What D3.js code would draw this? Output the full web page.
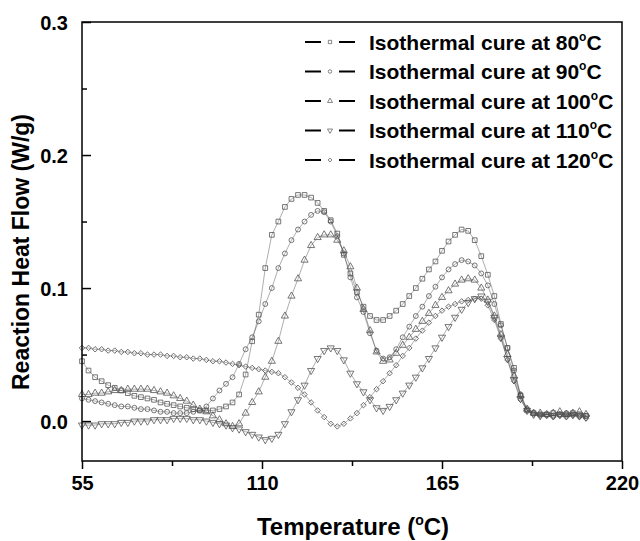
<!DOCTYPE html>
<html>
<head>
<meta charset="utf-8">
<script src="https://cdn.jsdelivr.net/npm/d3@7"></script>
<style>
body { margin: 0; background: #fff; }
svg text { font-family: "Liberation Sans", Arial, sans-serif; font-weight: bold; fill: #000; }
</style>
</head>
<body>
<script>
// temperature grid of the readings (°C)
const temps = [55,57,59,61,63,65,67,69,71,73,75,77,79,81,83,85,87,89,91,93,95,97,99,101,103,105,107,109,111,113,115,117,119,121,123,125,127,129,131,133,135,137,139,141,143,145,147,149,151,153,155,157,159,161,163,165,167,169,171,173,175,177,179,181,183,185,187,189,191,193,195,197,199,201,203,205,207,209]

// reaction heat flow (W/g), one list per isothermal cure
const cure80 = [0.045,0.038,0.033,0.030,0.027,0.025,0.023,0.021,0.019,0.018,0.017,0.016,0.014,0.013,0.012,0.011,0.010,0.009,0.008,0.008,0.008,0.009,0.011,0.014,0.020,0.035,0.060,0.080,0.115,0.140,0.150,0.161,0.167,0.170,0.170,0.168,0.164,0.158,0.151,0.141,0.125,0.111,0.097,0.086,0.079,0.076,0.076,0.079,0.083,0.088,0.094,0.100,0.107,0.114,0.120,0.128,0.135,0.140,0.144,0.143,0.136,0.124,0.110,0.094,0.073,0.055,0.040,0.019,0.008,0.006,0.005,0.005,0.006,0.005,0.005,0.006,0.005,0.004]
const cure90 = [0.017,0.016,0.015,0.014,0.013,0.012,0.011,0.011,0.010,0.009,0.009,0.008,0.007,0.007,0.006,0.006,0.006,0.007,0.008,0.011,0.017,0.023,0.028,0.033,0.043,0.054,0.063,0.075,0.088,0.100,0.115,0.126,0.136,0.144,0.150,0.155,0.158,0.157,0.150,0.139,0.126,0.108,0.093,0.082,0.066,0.053,0.047,0.048,0.054,0.063,0.071,0.079,0.086,0.094,0.101,0.108,0.114,0.118,0.121,0.120,0.117,0.111,0.102,0.088,0.072,0.055,0.038,0.020,0.009,0.006,0.005,0.005,0.004,0.005,0.006,0.005,0.004,0.004]
const cure100 = [0.020,0.020,0.021,0.021,0.022,0.023,0.023,0.024,0.024,0.024,0.024,0.023,0.022,0.021,0.019,0.017,0.015,0.012,0.009,0.007,0.004,0.001,-0.002,-0.004,-0.002,0.006,0.014,0.022,0.033,0.045,0.060,0.079,0.094,0.107,0.121,0.132,0.138,0.140,0.140,0.136,0.128,0.116,0.100,0.084,0.068,0.052,0.045,0.046,0.051,0.057,0.063,0.069,0.075,0.081,0.087,0.093,0.098,0.103,0.106,0.107,0.106,0.100,0.091,0.079,0.065,0.050,0.034,0.019,0.009,0.006,0.006,0.005,0.006,0.007,0.005,0.006,0.007,0.005]
const cure110 = [-0.003,-0.003,-0.003,-0.002,-0.002,-0.002,-0.001,-0.001,0.000,0.000,0.000,0.001,0.001,0.001,0.002,0.002,0.002,0.001,0.001,0.000,-0.001,-0.002,-0.003,-0.005,-0.006,-0.008,-0.010,-0.012,-0.014,-0.013,-0.010,-0.002,0.007,0.016,0.027,0.038,0.047,0.053,0.055,0.053,0.046,0.036,0.028,0.022,0.016,0.010,0.008,0.011,0.016,0.021,0.027,0.033,0.040,0.047,0.055,0.063,0.071,0.078,0.084,0.089,0.092,0.094,0.090,0.078,0.063,0.047,0.031,0.017,0.008,0.005,0.004,0.005,0.004,0.005,0.004,0.005,0.004,0.003]
const cure120 = [0.055,0.055,0.054,0.054,0.053,0.053,0.052,0.052,0.051,0.051,0.050,0.050,0.050,0.049,0.049,0.048,0.048,0.047,0.047,0.046,0.045,0.045,0.044,0.043,0.042,0.041,0.040,0.039,0.038,0.037,0.036,0.033,0.029,0.025,0.020,0.014,0.008,0.003,-0.002,-0.004,-0.002,0.002,0.006,0.012,0.018,0.024,0.030,0.036,0.042,0.049,0.055,0.062,0.068,0.074,0.079,0.083,0.086,0.088,0.090,0.091,0.092,0.092,0.087,0.076,0.062,0.046,0.030,0.016,0.008,0.005,0.004,0.004,0.003,0.004,0.003,0.004,0.003,0.002]

const cureTemps = ['80', '90', '100', '110', '120']
const xTicks = [55, 110, 165, 220]
const xMinor = [82.5, 137.5, 192.5]
const yTicks = [0, 0.1, 0.2, 0.3]
const yMinor = [0.05, 0.15, 0.25]

const w = 640
const h = 541

const series = [cure80, cure90, cure100, cure110, cure120].map((vals, i) => ({
    label: cureTemps[i],
    points: vals.map((v, j) => [temps[j], v])
}))

const shapes = [
    { type: d3.symbolSquare, size: 22, rotate: 0 },
    { type: d3.symbolCircle, size: 19, rotate: 0 },
    { type: d3.symbolTriangle, size: 22, rotate: 0 },
    { type: d3.symbolTriangle, size: 22, rotate: 180 },
    { type: d3.symbolSquare, size: 15, rotate: 45 }
]

const svg = d3.select('body').append('svg')
    .attr('width', w)
    .attr('height', h)

const xScale = d3.scaleLinear().domain([55, 220]).range([82, 622])
const yScale = d3.scaleLinear().domain([-0.03, 0.3]).range([461, 22])

// curves
const line = d3.line().x(d => xScale(d[0])).y(d => yScale(d[1]))

series.forEach((s, i) => {
    const g = svg.append('g')
    g.append('path')
        .attr('d', line(s.points))
        .attr('fill', 'none')
        .attr('stroke', '#333')
        .attr('stroke-width', 0.4)
    const sym = d3.symbol().type(shapes[i].type).size(shapes[i].size)
    g.selectAll('path.mark')
        .data(s.points)
        .enter()
        .append('path')
        .attr('class', 'mark')
        .attr('d', sym)
        .attr('transform', d => `translate(${xScale(d[0])},${yScale(d[1])}) rotate(${shapes[i].rotate})`)
        .attr('fill', 'none')
        .attr('stroke', '#555')
        .attr('stroke-width', 0.8)
})

// axes
const xAxis = d3.axisBottom(xScale).tickValues(xTicks).tickSize(8).tickPadding(7).tickFormat(d3.format('d'))
const xAxisMinor = d3.axisBottom(xScale).tickValues(xMinor).tickSize(5).tickFormat('')
const yAxis = d3.axisLeft(yScale).tickValues(yTicks).tickSize(-9).tickPadding(14).tickFormat(d3.format('.1f'))
const yAxisMinor = d3.axisLeft(yScale).tickValues(yMinor).tickSize(-5).tickFormat('')

const gx = svg.append('g').attr('transform', 'translate(0,461)').call(xAxis)
svg.append('g').attr('transform', 'translate(0,461)').call(xAxisMinor)
const gy = svg.append('g').attr('transform', 'translate(82,0)').call(yAxis)
svg.append('g').attr('transform', 'translate(82,0)').call(yAxisMinor)

svg.selectAll('.domain').remove()
svg.selectAll('.tick line').attr('stroke', '#000').attr('stroke-width', 1.5)
gx.selectAll('text').attr('font-size', 20).attr('font-family', null)
gy.selectAll('text').attr('font-size', 20).attr('font-family', null).attr('dy', '0.35em')

svg.append('rect')
    .attr('x', 82)
    .attr('y', 22)
    .attr('width', 540)
    .attr('height', 439)
    .attr('fill', 'none')
    .attr('stroke', '#000')
    .attr('stroke-width', 1.5)

// axis titles
svg.append('text')
    .attr('transform', 'translate(29,252) rotate(-90)')
    .attr('text-anchor', 'middle')
    .attr('font-size', 23)
    .text('Reaction Heat Flow (W/g)')

const xTitle = svg.append('text')
    .attr('x', 353)
    .attr('y', 535)
    .attr('text-anchor', 'middle')
    .attr('font-size', 24)
xTitle.append('tspan').text('Temperature (')
xTitle.append('tspan').attr('font-size', 14).attr('dy', -10).text('o')
xTitle.append('tspan').attr('dy', 10).text('C)')

// legend
const legend = svg.append('g')
series.forEach((s, i) => {
    const ly = 42 + i * 29.5
    legend.append('line').attr('x1', 305).attr('x2', 321).attr('y1', ly).attr('y2', ly)
        .attr('stroke', '#000').attr('stroke-width', 2)
    legend.append('line').attr('x1', 339).attr('x2', 355).attr('y1', ly).attr('y2', ly)
        .attr('stroke', '#000').attr('stroke-width', 2)
    legend.append('path')
        .attr('d', d3.symbol().type(shapes[i].type).size(shapes[i].size * 0.5))
        .attr('transform', `translate(330,${ly}) rotate(${shapes[i].rotate})`)
        .attr('fill', 'none')
        .attr('stroke', '#666')
        .attr('stroke-width', 0.8)
    const t = legend.append('text')
        .attr('x', 369)
        .attr('y', ly + 7.5)
        .attr('font-size', 21)
    t.append('tspan').text(`Isothermal cure at ${s.label}`)
    t.append('tspan').attr('font-size', 12).attr('dy', -9).text('o')
    t.append('tspan').attr('dy', 9).text('C')
})
</script>
</body>
</html>
